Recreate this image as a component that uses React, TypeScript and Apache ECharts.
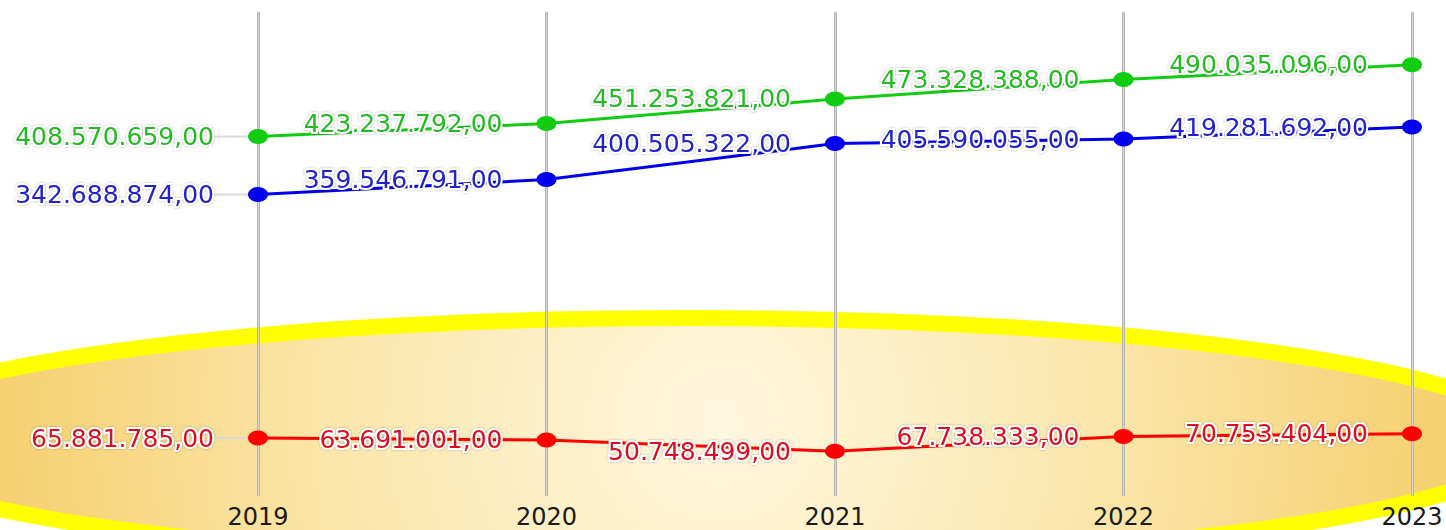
import React, { useEffect, useRef } from "react";
import * as echarts from "echarts";

const years = ["2019", "2020", "2021", "2022", "2023"];
const greenValues = [408570659, 423237792, 451253821, 473328388, 490035096];
const blueValues = [342688874, 359546791, 400505322, 405590055, 419281692];
const redValues = [65881785, 63691001, 50748499, 67738333, 70753404];

function fmt(v: number): string {
  const s = Math.round(v).toString();
  let out = "";
  for (let i = 0; i < s.length; i++) {
    const rem = s.length - i;
    out += s[i];
    if (rem > 1 && (rem - 1) % 3 === 0) out += ".";
  }
  return out + ",00";
}

function makeSeries(name: string, values: number[], lineColor: string, textColor: string) {
  const textStyle = {
    color: textColor,
    fontFamily: "DejaVu Sans",
    fontSize: 25,
    textBorderColor: "#ffffff",
    textBorderWidth: 4,
    textShadowColor: "rgba(0,0,0,0.3)",
    textShadowBlur: 2,
  };
  return {
    name,
    type: "line",
    data: values,
    symbol: "circle",
    symbolSize: [20, 15],
    lineStyle: { color: lineColor, width: 3 },
    itemStyle: { color: lineColor },
    z: 5,
    label: {
      show: true,
      position: "left",
      distance: 0,
      formatter: (p: any) =>
        p.dataIndex === 0 ? `{v|${fmt(p.value)}}{g|}` : `{v|${fmt(p.value)}}{s|}`,
      ...textStyle,
      rich: {
        v: textStyle,
        g: { width: 34, height: 2, backgroundColor: "#d9d9d9" },
        s: { width: 34, height: 2 },
      },
    },
  };
}

export default function App() {
  const ref = useRef<HTMLDivElement>(null);
  useEffect(() => {
    document.body.style.margin = "0";
    const chart = echarts.init(ref.current!, undefined, { renderer: "svg" });
    const catAxisBase = {
      type: "category",
      data: years,
      boundaryGap: false,
      axisLine: { show: false },
      axisTick: { show: false },
    };
    chart.setOption({
      animation: false,
      backgroundColor: "#ffffff",
      grid: { left: 258, right: 34, top: 12, bottom: 34 },
      graphic: [
        {
          type: "ellipse",
          z: -10,
          silent: true,
          shape: { cx: 690, cy: 440, rx: 838, ry: 122 },
          style: {
            fill: new echarts.graphic.RadialGradient(
              720,
              420,
              780,
              [
                { offset: 0, color: "#fff7e0" },
                { offset: 0.5, color: "#fbe6aa" },
                { offset: 1, color: "#f5cc66" },
              ],
              true
            ),
            stroke: "#ffff00",
            lineWidth: 16,
          },
        },
      ],
      xAxis: [
        {
          ...catAxisBase,
          axisLabel: {
            color: "#1a1a1a",
            fontFamily: "DejaVu Sans",
            fontSize: 24,
            margin: 9,
          },
          splitLine: { show: true, lineStyle: { color: "#b4b4b4", width: 3 } },
        },
        {
          ...catAxisBase,
          position: "bottom",
          axisLabel: { show: false },
          splitLine: { show: true, lineStyle: { color: "#d6d6d6", width: 1 } },
        },
      ],
      yAxis: {
        type: "value",
        min: 0,
        max: 550000000,
        show: false,
        splitLine: { show: false },
      },
      series: [
        makeSeries("green", greenValues, "#11cc11", "#22bb22"),
        makeSeries("blue", blueValues, "#0000ee", "#2222cc"),
        makeSeries("red", redValues, "#ff0000", "#dd1122"),
      ],
    });
    return () => chart.dispose();
  }, []);
  return <div ref={ref} style={{ width: 1446, height: 530 }} />;
}
